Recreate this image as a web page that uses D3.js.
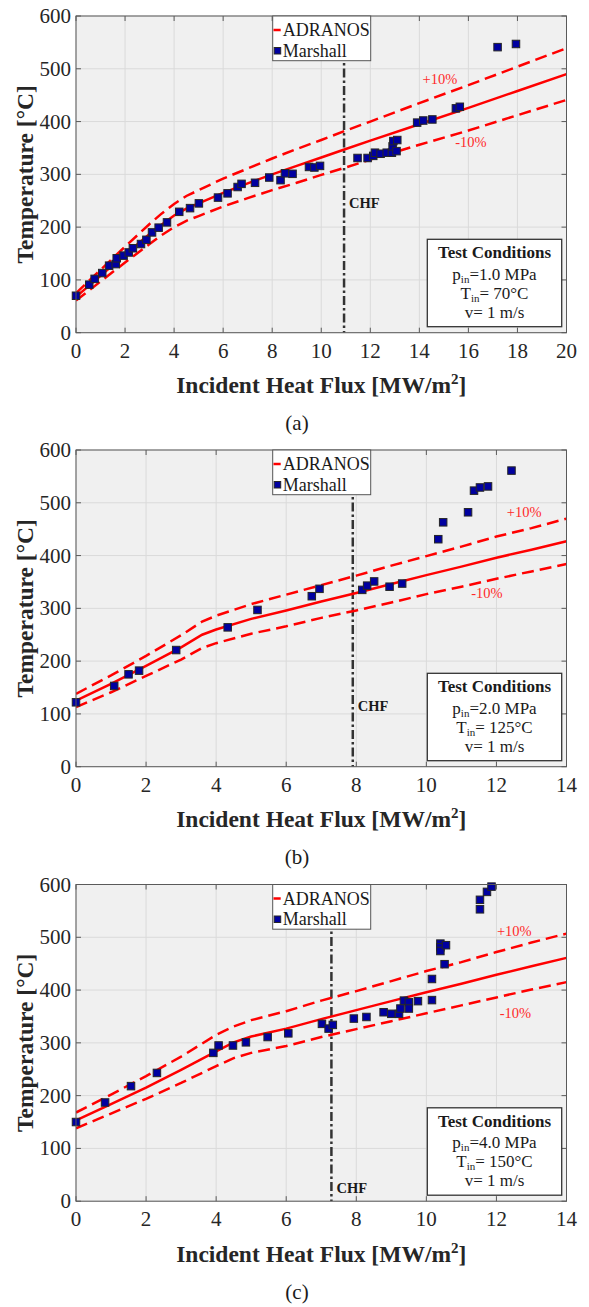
<!DOCTYPE html>
<html>
<head>
<meta charset="utf-8">
<script src="https://cdn.jsdelivr.net/npm/d3@7"></script>
<style>
	body { margin: 0; background: #fff; }
	text { font-family: 'Liberation Serif', 'Times New Roman', serif; }
</style>
</head>
<body>
<script>
// experimental points (Marshall) for each panel
var aExpFlux = [0, 0.54, 0.76, 1.07, 1.35, 1.62, 1.66, 1.94, 2.15, 2.32, 2.65, 2.87, 3.10, 3.37, 3.71, 4.21, 4.65, 5.01, 5.79, 6.18, 6.59, 6.75, 7.30, 7.88, 8.34, 8.52, 8.83, 9.50, 9.72, 9.95, 11.48, 11.89, 12.12, 12.19, 12.42, 12.67, 12.88, 12.91, 12.94, 13.07, 13.10, 13.91, 14.16, 14.53, 15.49, 15.65, 17.19, 17.94]
var aExpTemp = [70, 91, 102, 113, 127, 130, 141, 146, 152, 160, 168, 176, 190, 199, 209, 229, 236, 245, 256, 264, 276, 282, 284, 294, 289, 302, 301, 314, 313, 316, 331, 331, 335, 341, 339, 341, 341, 353, 363, 344, 365, 398, 402, 404, 425, 428, 541, 547]

var bExpFlux = [0, 1.09, 1.50, 1.80, 2.86, 4.33, 5.18, 6.73, 6.95, 8.17, 8.31, 8.51, 8.95, 9.31, 10.34, 10.48, 11.19, 11.36, 11.53, 11.76, 12.43]
var bExpTemp = [122, 153, 175, 182, 221, 264, 297, 323, 337, 335, 343, 351, 341, 347, 431, 463, 482, 523, 529, 531, 561]

var cExpFlux = [0, 0.83, 1.57, 2.31, 3.92, 4.07, 4.48, 4.85, 5.47, 6.06, 7.02, 7.21, 7.33, 7.93, 8.29, 8.78, 9.00, 9.22, 9.26, 9.36, 9.50, 9.50, 9.76, 10.16, 10.16, 10.40, 10.40, 10.40, 10.52, 10.56, 11.53, 11.53, 11.73, 11.86]
var cExpTemp = [150, 187, 218, 243, 281, 295, 295, 301, 311, 318, 336, 327, 334, 346, 349, 358, 355, 355, 365, 380, 377, 365, 379, 381, 421, 488, 481, 474, 449, 485, 553, 571, 586, 596]

// ADRANOS prediction and the +/-10% band
var aModelFlux = [0, 1, 2, 3, 3.5, 4, 4.5, 5, 6, 7, 8, 9, 10, 11, 12, 14, 16, 18, 20]
var aModelTemp = [68, 108, 148, 187, 205, 222, 235, 245, 265, 283, 300, 316, 332, 348, 364, 395, 426, 458, 490]
var aUpperTemp = [75, 119, 163, 206, 226, 244, 259, 270, 292, 311, 330, 348, 365, 383, 400, 435, 469, 504, 539]
var aLowerTemp = [61, 97, 133, 168, 185, 200, 212, 221, 239, 255, 270, 284, 299, 313, 328, 356, 383, 412, 441]

var bModelFlux = [0, 1, 2, 3, 3.6, 4, 5, 6, 7, 8, 9, 10, 11, 12, 13, 14]
var bModelTemp = [125, 157, 191, 226, 250, 260, 280, 296, 313, 329, 346, 363, 379, 396, 411, 427]
var bUpperTemp = [138, 173, 210, 249, 275, 286, 308, 326, 344, 362, 381, 399, 417, 436, 452, 470]
var bLowerTemp = [113, 141, 172, 203, 225, 234, 252, 266, 282, 296, 311, 327, 341, 356, 370, 384]

var cModelFlux = [0, 1, 2, 3, 4, 4.5, 5, 6, 7, 8, 9, 10, 11, 12, 13, 14]
var cModelTemp = [153, 184, 215, 249, 284, 301, 312, 327, 345, 362, 379, 396, 412, 429, 445, 461]
var cUpperTemp = [168, 202, 237, 274, 315, 331, 343, 360, 380, 398, 417, 436, 453, 472, 490, 507]
var cLowerTemp = [138, 166, 194, 224, 256, 271, 281, 294, 311, 326, 341, 356, 371, 386, 401, 415]

// critical heat flux, test conditions and labels
var chfFlux = [10.93, 7.9, 7.29]
var chfLabelTemp = [236, 106, 16]
var xMax = [20, 14, 14]
var pressure = ['1.0 MPa', '2.0 MPa', '4.0 MPa']
var inletTemp = [' 70°C', ' 125°C', ' 150°C']
var velocity = ['1 m/s', '1 m/s', '1 m/s']
var panelLabels = ['(a)', '(b)', '(c)']
var plusLabel = [[14.84, 472], [12.79, 473], [12.51, 503]]
var minusLabel = [[16.1, 352], [11.73, 320], [12.54, 347]]
var yTicks = [0, 100, 200, 300, 400, 500, 600]

var panels = [
	{exp: [aExpFlux, aExpTemp], model: [aModelFlux, aModelTemp, aUpperTemp, aLowerTemp]},
	{exp: [bExpFlux, bExpTemp], model: [bModelFlux, bModelTemp, bUpperTemp, bLowerTemp]},
	{exp: [cExpFlux, cExpTemp], model: [cModelFlux, cModelTemp, cUpperTemp, cLowerTemp]}
]
var panelTops = [16, 450, 884.5]

var left = 76
var right = 566.5
var plotH = 316.7
var axisColor = '#5a5a5a'

var svg = d3.select('body')
	.append('svg')
		.attr('width', 589)
		.attr('height', 1307)

panels.forEach(function(p, i) {
	var top = panelTops[i]
	var bottom = top + plotH

	var x = d3.scaleLinear().domain([0, xMax[i]]).range([left, right])
	var y = d3.scaleLinear().domain([0, 600]).range([bottom, top])
	var xTicks = d3.range(0, xMax[i] + 1, 2)

	var g = svg.append('g')

	// background
	g.append('rect')
		.attr('x', left).attr('y', top)
		.attr('width', right - left).attr('height', plotH)
		.attr('fill', '#f0f0f0')

	// grid
	g.selectAll('.gx').data(xTicks).enter().append('line')
		.attr('x1', function(d) { return x(d) }).attr('x2', function(d) { return x(d) })
		.attr('y1', top).attr('y2', bottom)
		.attr('stroke', '#dadada').attr('stroke-width', 1)
	g.selectAll('.gy').data(yTicks).enter().append('line')
		.attr('x1', left).attr('x2', right)
		.attr('y1', function(d) { return y(d) }).attr('y2', function(d) { return y(d) })
		.attr('stroke', '#dadada').attr('stroke-width', 1)

	var clipId = 'clip' + i
	g.append('clipPath').attr('id', clipId)
		.append('rect')
		.attr('x', left).attr('y', top)
		.attr('width', right - left).attr('height', plotH)

	var plot = g.append('g').attr('clip-path', 'url(#' + clipId + ')')

	// chf line
	plot.append('line')
		.attr('x1', x(chfFlux[i])).attr('x2', x(chfFlux[i]))
		.attr('y1', top).attr('y2', bottom)
		.attr('stroke', '#333').attr('stroke-width', 2.5)
		.attr('stroke-dasharray', '9,3,2.5,3')

	var flux = p.model[0]
	function lineFor(temps) {
		return d3.line()
			.x(function(d, k) { return x(flux[k]) })
			.y(function(d) { return y(d) })(temps)
	}

	// model and band
	plot.append('path').attr('d', lineFor(p.model[2]))
		.attr('fill', 'none').attr('stroke', '#ff0000').attr('stroke-width', 2.5)
		.attr('stroke-dasharray', '12,6')
	plot.append('path').attr('d', lineFor(p.model[3]))
		.attr('fill', 'none').attr('stroke', '#ff0000').attr('stroke-width', 2.5)
		.attr('stroke-dasharray', '12,6')
	plot.append('path').attr('d', lineFor(p.model[1]))
		.attr('fill', 'none').attr('stroke', '#ff0000').attr('stroke-width', 2.5)

	// markers
	var ms = 7.5
	g.selectAll('.pt').data(p.exp[0]).enter().append('rect')
		.attr('x', function(d) { return x(d) - ms / 2 })
		.attr('y', function(d, k) { return y(p.exp[1][k]) - ms / 2 })
		.attr('width', ms).attr('height', ms)
		.attr('fill', '#0000a0').attr('stroke', '#262626').attr('stroke-width', 1)

	// band and chf labels
	g.append('text')
		.attr('x', x(plusLabel[i][0])).attr('y', y(plusLabel[i][1]))
		.attr('text-anchor', 'middle').attr('font-size', 14.5).attr('fill', '#ff2a2a')
		.text('+10%')
	g.append('text')
		.attr('x', x(minusLabel[i][0])).attr('y', y(minusLabel[i][1]))
		.attr('text-anchor', 'middle').attr('font-size', 14.5).attr('fill', '#ff2a2a')
		.text('-10%')
	g.append('text')
		.attr('x', x(chfFlux[i]) + 5).attr('y', y(chfLabelTemp[i]))
		.attr('font-size', 14.5).attr('font-weight', 'bold').attr('fill', '#1a1a1a')
		.text('CHF')

	// box and ticks
	g.append('rect')
		.attr('x', left).attr('y', top)
		.attr('width', right - left).attr('height', plotH)
		.attr('fill', 'none').attr('stroke', axisColor).attr('stroke-width', 1)
	xTicks.forEach(function(t) {
		g.append('line').attr('x1', x(t)).attr('x2', x(t)).attr('y1', bottom).attr('y2', bottom - 5).attr('stroke', axisColor)
		g.append('line').attr('x1', x(t)).attr('x2', x(t)).attr('y1', top).attr('y2', top + 5).attr('stroke', axisColor)
	})
	yTicks.forEach(function(t) {
		g.append('line').attr('x1', left).attr('x2', left + 5).attr('y1', y(t)).attr('y2', y(t)).attr('stroke', axisColor)
		g.append('line').attr('x1', right).attr('x2', right - 5).attr('y1', y(t)).attr('y2', y(t)).attr('stroke', axisColor)
	})

	// tick labels
	g.selectAll('.xl').data(xTicks).enter().append('text')
		.attr('x', function(d) { return x(d) }).attr('y', bottom + 25)
		.attr('text-anchor', 'middle').attr('font-size', 21).attr('fill', '#262626')
		.text(function(d) { return d })
	g.selectAll('.yl').data(yTicks).enter().append('text')
		.attr('x', left - 5).attr('y', function(d) { return y(d) + 7 })
		.attr('text-anchor', 'end').attr('font-size', 21).attr('fill', '#262626')
		.text(function(d) { return d })

	// axis titles
	var xt = g.append('text')
		.attr('x', (left + right) / 2).attr('y', bottom + 60.5)
		.attr('text-anchor', 'middle').attr('font-size', 23.5).attr('font-weight', 'bold').attr('fill', '#262626')
	xt.append('tspan').text('Incident Heat Flux [MW/m')
	xt.append('tspan').attr('font-size', 15).attr('dy', -9).text('2')
	xt.append('tspan').attr('dy', 9).text(']')

	g.append('text')
		.attr('transform', 'translate(33,' + (top + plotH / 2) + ')rotate(-90)')
		.attr('text-anchor', 'middle').attr('font-size', 23.5).attr('font-weight', 'bold').attr('fill', '#262626')
		.text('Temperature [°C]')

	// legend
	var lx = 272.7
	var lg = g.append('g')
	lg.append('rect')
		.attr('x', lx).attr('y', top).attr('width', 98).attr('height', 44.7)
		.attr('fill', '#fff').attr('stroke', '#555').attr('stroke-width', 1)
	lg.append('line')
		.attr('x1', lx + 0.8).attr('x2', lx + 8).attr('y1', top + 14).attr('y2', top + 14)
		.attr('stroke', '#ff0000').attr('stroke-width', 2.5)
	lg.append('text').attr('x', lx + 10).attr('y', top + 20).attr('font-size', 18).attr('fill', '#1a1a1a').text('ADRANOS')
	lg.append('rect')
		.attr('x', lx + 1.5).attr('y', top + 31.5).attr('width', 6.5).attr('height', 6.5)
		.attr('fill', '#0000a0').attr('stroke', '#262626').attr('stroke-width', 1)
	lg.append('text').attr('x', lx + 10).attr('y', top + 40.5).attr('font-size', 18).attr('fill', '#1a1a1a').text('Marshall')

	// test conditions box
	var bx = 427.3
	var by = top + 223.3
	var cx = bx + 67.2
	var tb = g.append('g')
	tb.append('rect')
		.attr('x', bx).attr('y', by).attr('width', 134.4).attr('height', 87.4)
		.attr('fill', '#fff').attr('stroke', '#333').attr('stroke-width', 1.3)
	tb.append('text').attr('x', cx).attr('y', by + 19).attr('text-anchor', 'middle')
		.attr('font-size', 17).attr('font-weight', 'bold').attr('fill', '#1a1a1a').text('Test Conditions')
	var t1 = tb.append('text').attr('x', cx).attr('y', by + 40.5).attr('text-anchor', 'middle').attr('font-size', 17).attr('fill', '#1a1a1a')
	t1.append('tspan').text('p')
	t1.append('tspan').attr('font-size', 11).attr('dy', 3).text('in')
	t1.append('tspan').attr('dy', -3).text('=' + pressure[i])
	var t2 = tb.append('text').attr('x', cx).attr('y', by + 59.5).attr('text-anchor', 'middle').attr('font-size', 17).attr('fill', '#1a1a1a')
	t2.append('tspan').text('T')
	t2.append('tspan').attr('font-size', 11).attr('dy', 3).text('in')
	t2.append('tspan').attr('dy', -3).text('=' + inletTemp[i])
	tb.append('text').attr('x', cx).attr('y', by + 78.5).attr('text-anchor', 'middle').attr('font-size', 17).attr('fill', '#1a1a1a')
		.text('v= ' + velocity[i])

	// panel label
	g.append('text')
		.attr('x', 297).attr('y', top + 414)
		.attr('text-anchor', 'middle').attr('font-size', 21).attr('fill', '#1a1a1a')
		.text(panelLabels[i])
})
</script>
</body>
</html>
